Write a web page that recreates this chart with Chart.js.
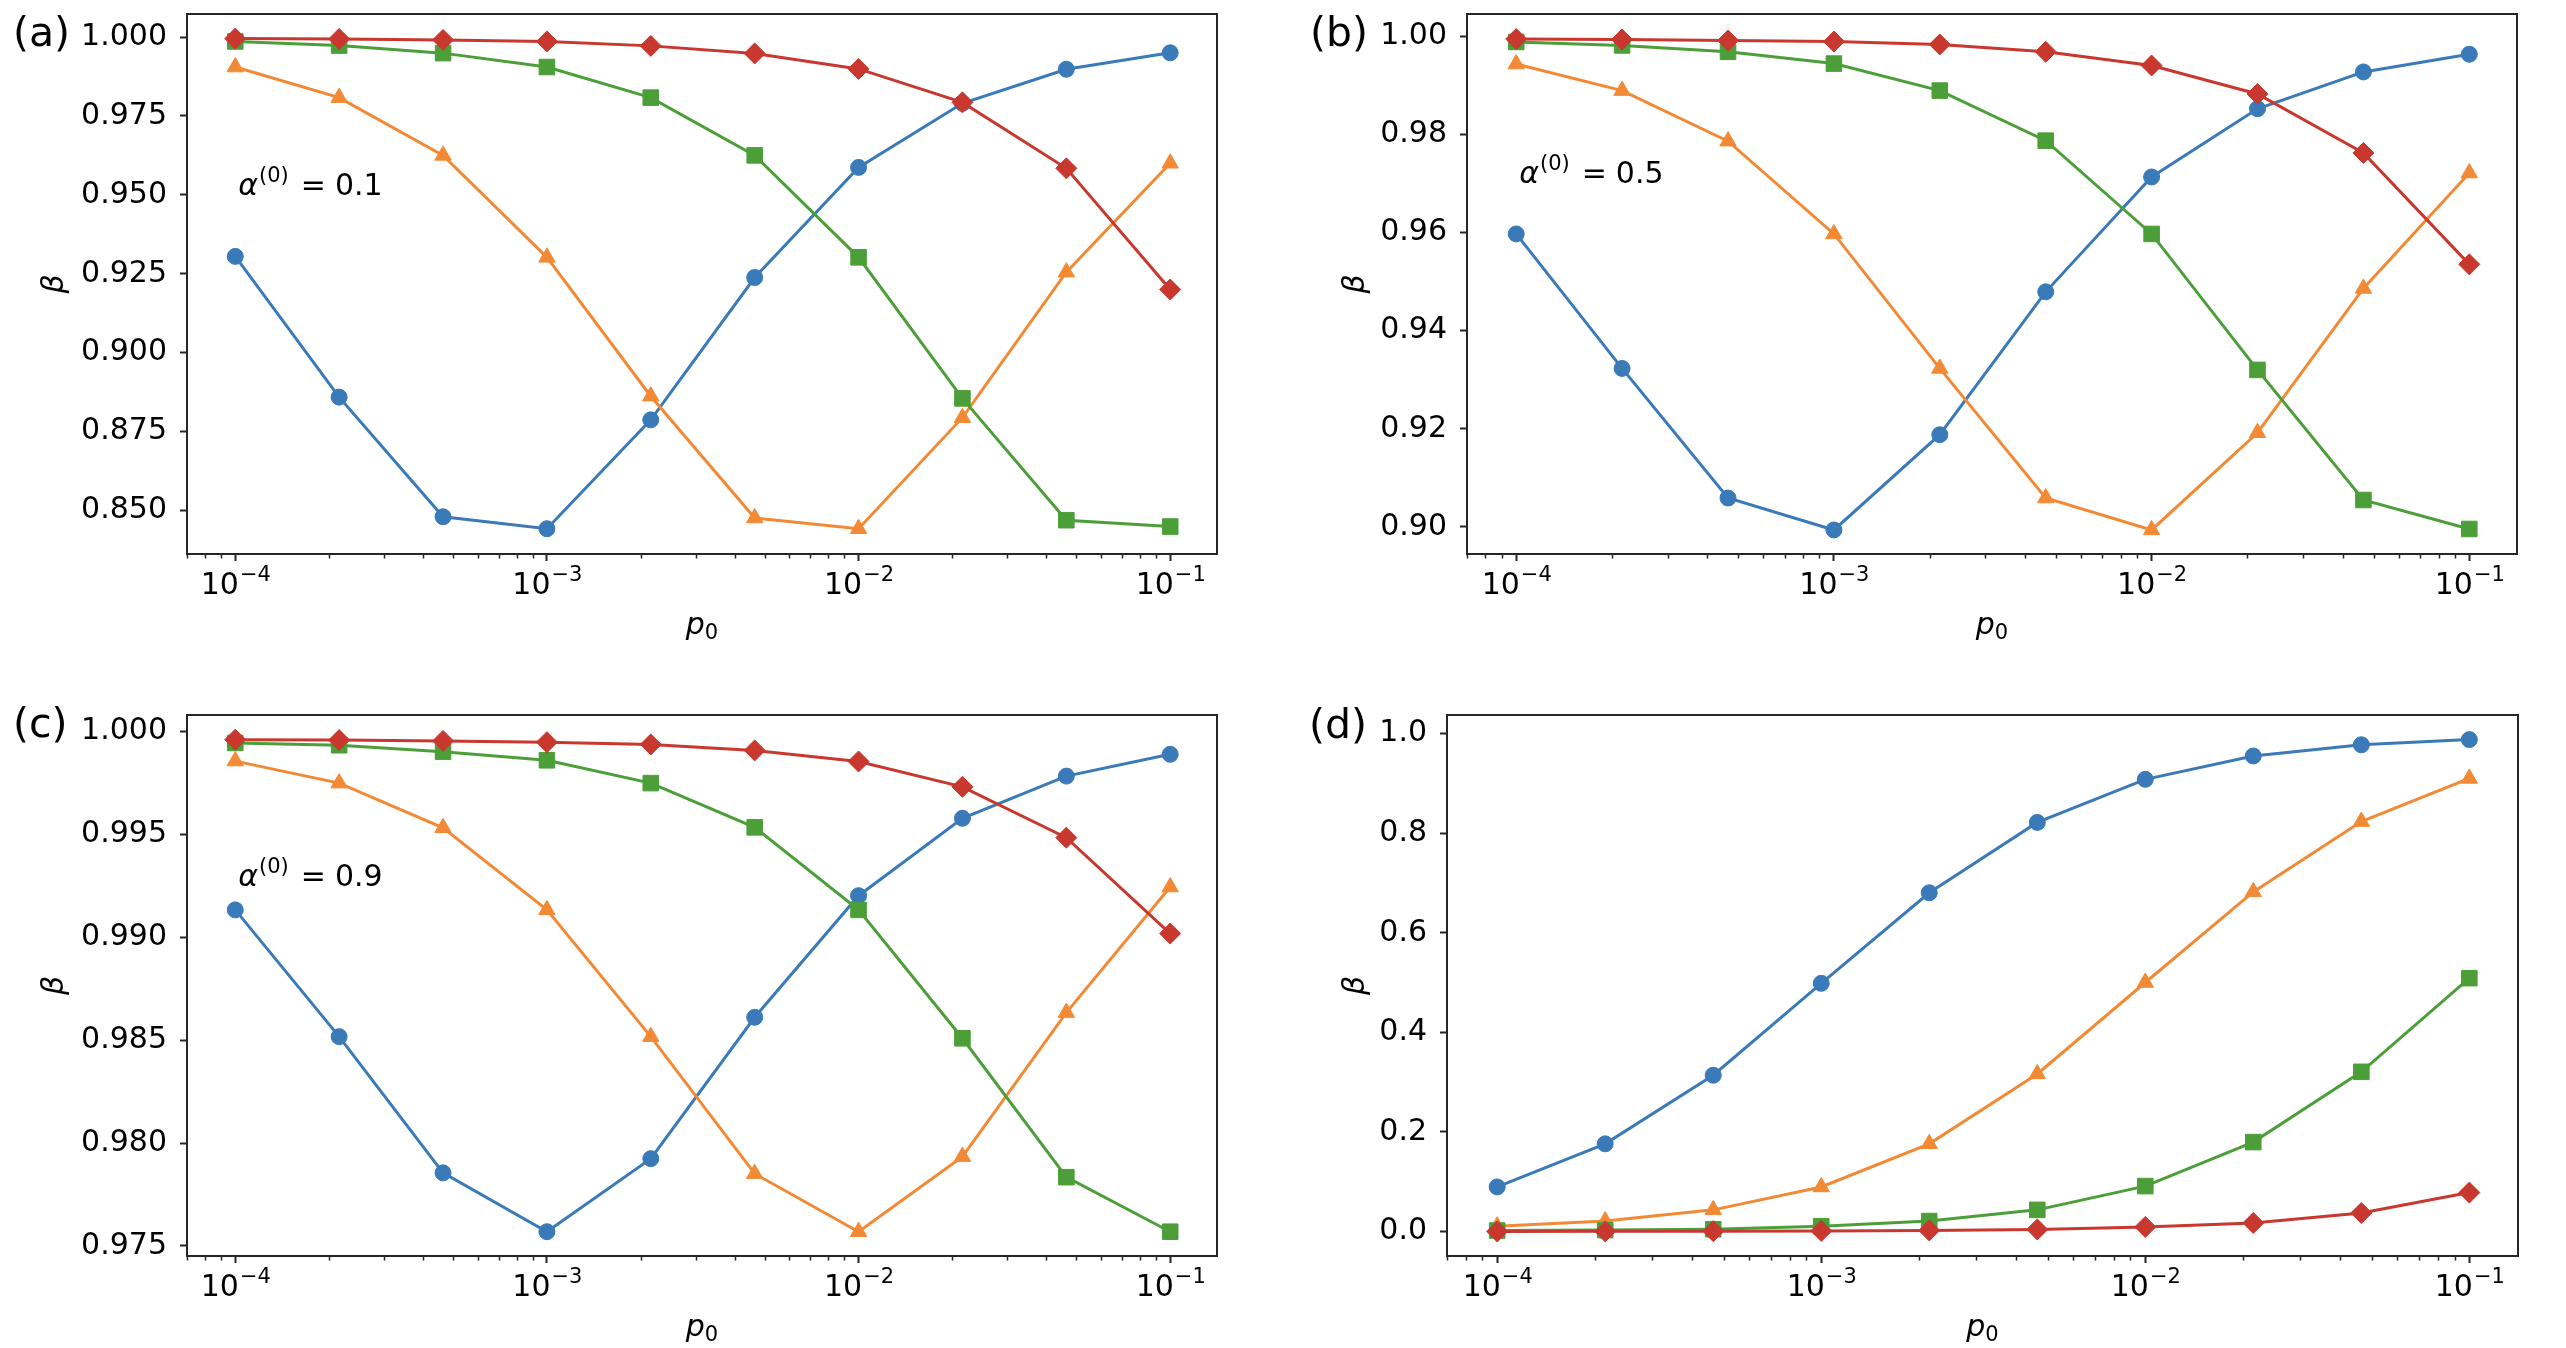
<!DOCTYPE html>
<html>
<head>
<meta charset="utf-8">
<script src="https://cdn.jsdelivr.net/npm/chart.js@4.4.0/dist/chart.umd.min.js"></script>
<style>
    html, body { margin: 0; padding: 0; background: #fff; overflow: hidden; width: 2566px; height: 1348px; }
    canvas { position: absolute; }
</style>
</head>
<body>
<canvas id="chart-a"></canvas>
<canvas id="chart-b"></canvas>
<canvas id="chart-c"></canvas>
<canvas id="chart-d"></canvas>
<script>
// Значения p0 по оси X
const p0Values = [1e-4, 2.154e-4, 4.642e-4, 1e-3, 2.154e-3, 4.642e-3, 1e-2, 2.154e-2, 4.642e-2, 1e-1];
const xTickValues = [1e-4, 1e-3, 1e-2, 1e-1];
const xTickBases = ['10', '10', '10', '10'];
const xTickExponents = ['−4', '−3', '−2', '−1'];

// Панель (a), α(0) = 0.1
const betaA_circle   = [0.9305, 0.8859, 0.8480, 0.8442, 0.8787, 0.9238, 0.9587, 0.9790, 0.9898, 0.9950];
const betaA_triangle = [0.9905, 0.9808, 0.9625, 0.9302, 0.8862, 0.8476, 0.8442, 0.8794, 0.9255, 0.9600];
const betaA_square   = [0.9986, 0.9973, 0.9949, 0.9905, 0.9808, 0.9625, 0.9302, 0.8855, 0.8469, 0.8449];
const betaA_diamond  = [0.9995, 0.9994, 0.9991, 0.9986, 0.9972, 0.9948, 0.9899, 0.9793, 0.9584, 0.9200];

// Панель (b), α(0) = 0.5
const betaB_circle   = [0.9597, 0.9323, 0.9059, 0.8994, 0.9188, 0.9479, 0.9713, 0.9852, 0.9927, 0.9963];
const betaB_triangle = [0.9943, 0.9889, 0.9786, 0.9597, 0.9323, 0.9059, 0.8994, 0.9192, 0.9486, 0.9721];
const betaB_square   = [0.9988, 0.9981, 0.9968, 0.9944, 0.9889, 0.9787, 0.9597, 0.9320, 0.9055, 0.8996];
const betaB_diamond  = [0.9994, 0.9993, 0.9991, 0.9989, 0.9983, 0.9968, 0.9940, 0.9882, 0.9762, 0.9535];

// Панель (c), α(0) = 0.9
const betaC_circle   = [0.99133, 0.98517, 0.97855, 0.97569, 0.97924, 0.98611, 0.99202, 0.99578, 0.99783, 0.99889];
const betaC_triangle = [0.99856, 0.99749, 0.99532, 0.99133, 0.98517, 0.97851, 0.97569, 0.97934, 0.98634, 0.99244];
const betaC_square   = [0.99944, 0.99933, 0.99902, 0.99860, 0.99749, 0.99534, 0.99133, 0.98509, 0.97834, 0.97569];
const betaC_diamond  = [0.99960, 0.99958, 0.99954, 0.99948, 0.99937, 0.99908, 0.99854, 0.99731, 0.99484, 0.99018];

// Панель (d)
const betaD_circle   = [0.0893, 0.1759, 0.3137, 0.4983, 0.6802, 0.8215, 0.9081, 0.9550, 0.9775, 0.9879];
const betaD_triangle = [0.0104, 0.0208, 0.0433, 0.0893, 0.1759, 0.3163, 0.5000, 0.6820, 0.8232, 0.9099];
const betaD_square   = [0.0017, 0.0026, 0.0043, 0.0104, 0.0208, 0.0433, 0.0910, 0.1794, 0.3206, 0.5087];
const betaD_diamond  = [0.0000, 0.0001, 0.0005, 0.0010, 0.0020, 0.0040, 0.0090, 0.0170, 0.0370, 0.0780];

const FONT = '"DejaVu Sans", sans-serif';
const FRAME_COLOR = '#262626';

// Стили серий: круг, треугольник, квадрат, ромб
const seriesStyles = [
    { color: '#3a7ab8', pointStyle: 'circle',   radius: 8,    order: 3 },
    { color: '#f28a35', pointStyle: 'triangle', radius: 9.5,  order: 2 },
    { color: '#4c9f38', pointStyle: 'rect',     radius: 11,   order: 1 },
    { color: '#c8382e', pointStyle: 'rectRot',  radius: 10.5, order: 0 }
];

// Описание панелей (положение осей в пикселях страницы)
const panels = [
    {
        id: 'chart-a', label: '(a)', labelX: 13, labelY: 46, betaX: 55,
        box: { l: 187, t: 14, r: 1217, b: 554 },
        yMin: 0.8362, yMax: 1.0073, step: 0.025, digits: 3,
        alpha: '0.1', alphaY: 0.95,
        series: [betaA_circle, betaA_triangle, betaA_square, betaA_diamond]
    },
    {
        id: 'chart-b', label: '(b)', labelX: 1310, labelY: 46, betaX: 1356,
        box: { l: 1467, t: 14, r: 2517, b: 554 },
        yMin: 0.8945, yMax: 1.0045, step: 0.02, digits: 2,
        alpha: '0.5', alphaY: 0.97,
        series: [betaB_circle, betaB_triangle, betaB_square, betaB_diamond]
    },
    {
        id: 'chart-c', label: '(c)', labelX: 13, labelY: 737, betaX: 55,
        box: { l: 187, t: 715, r: 1217, b: 1256 },
        yMin: 0.97451, yMax: 1.0008, step: 0.005, digits: 3,
        alpha: '0.9', alphaY: 0.9925,
        series: [betaC_circle, betaC_triangle, betaC_square, betaC_diamond]
    },
    {
        id: 'chart-d', label: '(d)', labelX: 1309, labelY: 738, betaX: 1356,
        box: { l: 1447, t: 715, r: 2518, b: 1256 },
        yMin: -0.0494, yMax: 1.0373, step: 0.2, digits: 1,
        alpha: null, alphaY: null,
        series: [betaD_circle, betaD_triangle, betaD_square, betaD_diamond]
    }
];

// Отрисовка подписи α^(0) = значение
function drawAlphaText(ctx, x, y, value) {
    ctx.textAlign = 'left';
    ctx.textBaseline = 'alphabetic';
    ctx.font = 'italic 30px ' + FONT;
    ctx.fillText('α', x, y);
    x += ctx.measureText('α').width + 1;
    ctx.font = '21px ' + FONT;
    ctx.fillText('(0)', x, y - 13);
    x += ctx.measureText('(0)').width + 12;
    ctx.font = '30px ' + FONT;
    ctx.fillText('=', x, y);
    x += ctx.measureText('=').width + 9;
    ctx.fillText(value, x, y);
}

// Подпись деления вида 10^n
function drawPowerLabel(ctx, cxPos, baseY, base, exp) {
    ctx.font = '30px ' + FONT;
    const bw = ctx.measureText(base).width;
    ctx.font = '21px ' + FONT;
    const ew = ctx.measureText(exp).width;
    const x0 = cxPos - (bw + ew) / 2;
    ctx.textAlign = 'left';
    ctx.textBaseline = 'alphabetic';
    ctx.font = '30px ' + FONT;
    ctx.fillText(base, x0, baseY);
    ctx.font = '21px ' + FONT;
    ctx.fillText(exp, x0 + bw + 1, baseY - 13);
}

// Плагин: рамка, малые деления, подписи осей и панели
function makeDecorPlugin(panel, cx, cy) {
    return {
        id: 'decor',
        afterDraw(chart) {
            const ctx = chart.ctx;
            const area = chart.chartArea;
            const xScale = chart.scales.x;
            const yScale = chart.scales.y;
            ctx.save();

            // Рамка осей
            ctx.strokeStyle = FRAME_COLOR;
            ctx.lineWidth = 2;
            ctx.strokeRect(area.left, area.top, area.right - area.left, area.bottom - area.top);

            // Малые деления логарифмической оси
            ctx.lineWidth = 1.5;
            ctx.beginPath();
            for (let n = -5; n <= 0; n++) {
                for (let k = 2; k <= 9; k++) {
                    const v = k * Math.pow(10, n);
                    if (v < xScale.min || v > xScale.max) continue;
                    const px = Math.round(xScale.getPixelForValue(v)) + 0.5;
                    ctx.moveTo(px, area.bottom);
                    ctx.lineTo(px, area.bottom + 4.5);
                }
            }
            ctx.stroke();

            ctx.fillStyle = '#000';

            // Подписи делений оси X
            xTickValues.forEach((v, i) => {
                drawPowerLabel(ctx, xScale.getPixelForValue(v), area.bottom + 40, xTickBases[i], xTickExponents[i]);
            });

            // Метка панели
            ctx.font = '41px ' + FONT;
            ctx.textAlign = 'left';
            ctx.textBaseline = 'alphabetic';
            ctx.fillText(panel.label, panel.labelX - cx, panel.labelY - cy);

            // Подпись оси Y
            ctx.save();
            ctx.translate(panel.betaX - cx, (area.top + area.bottom) / 2);
            ctx.rotate(-Math.PI / 2);
            ctx.font = 'italic 30px ' + FONT;
            ctx.textAlign = 'center';
            ctx.textBaseline = 'middle';
            ctx.fillText('β', 0, 0);
            ctx.restore();

            // Подпись оси X: p с индексом 0
            const midX = (area.left + area.right) / 2;
            const baseY = area.bottom + 80;
            ctx.font = 'italic 30px ' + FONT;
            const pW = ctx.measureText('p').width;
            ctx.font = '21px ' + FONT;
            const subW = ctx.measureText('0').width;
            const startX = midX - (pW + subW) / 2;
            ctx.font = 'italic 30px ' + FONT;
            ctx.fillText('p', startX, baseY);
            ctx.font = '21px ' + FONT;
            ctx.fillText('0', startX + pW, baseY + 5);

            // Аннотация α^(0)
            if (panel.alpha) {
                const ax = xScale.getPixelForValue(p0Values[0]) + 3;
                const ay = yScale.getPixelForValue(panel.alphaY);
                drawAlphaText(ctx, ax, ay, panel.alpha);
            }
            ctx.restore();
        }
    };
}

// Создание графика для панели
function createPanel(panel) {
    const box = panel.box;
    const yAxisWidth = 187;
    const xAxisHeight = 96;
    const padTop = 40;
    const padRight = 30;
    const cx = box.l - yAxisWidth;
    const cy = box.t - padTop;
    const cw = box.r + padRight - cx;
    const ch = box.b + xAxisHeight - cy;

    const canvas = document.getElementById(panel.id);
    canvas.width = cw;
    canvas.height = ch;
    canvas.style.left = cx + 'px';
    canvas.style.top = cy + 'px';
    canvas.style.width = cw + 'px';
    canvas.style.height = ch + 'px';

    const datasets = panel.series.map((values, i) => {
        const st = seriesStyles[i];
        return {
            data: values.map((v, j) => ({ x: p0Values[j], y: v })),
            borderColor: st.color,
            backgroundColor: st.color,
            borderWidth: 3,
            pointStyle: st.pointStyle,
            pointRadius: st.radius,
            pointHoverRadius: st.radius,
            pointBackgroundColor: st.color,
            pointBorderColor: st.color,
            pointBorderWidth: 1,
            tension: 0,
            order: st.order,
            clip: false
        };
    });

    return new Chart(canvas, {
        type: 'line',
        data: { datasets: datasets },
        options: {
            responsive: false,
            animation: false,
            devicePixelRatio: 1,
            events: [],
            layout: { padding: { left: 0, top: padTop, right: padRight, bottom: 0 } },
            plugins: {
                legend: { display: false },
                tooltip: { enabled: false },
                title: { display: false }
            },
            scales: {
                x: {
                    type: 'logarithmic',
                    min: 7.079e-5,
                    max: 0.1413,
                    afterBuildTicks: scale => {
                        scale.ticks = xTickValues.map(v => ({ value: v }));
                    },
                    afterFit: scale => { scale.height = xAxisHeight; },
                    ticks: {
                        // подписи рисуются плагином (степени десяти)
                        callback: () => '',
                        font: { family: FONT, size: 30 },
                        padding: 4,
                        maxRotation: 0,
                        autoSkip: false
                    },
                    grid: {
                        drawOnChartArea: false,
                        drawTicks: true,
                        tickLength: 7,
                        tickWidth: 2,
                        tickColor: FRAME_COLOR
                    },
                    border: { display: false }
                },
                y: {
                    type: 'linear',
                    min: panel.yMin,
                    max: panel.yMax,
                    afterFit: scale => { scale.width = yAxisWidth; },
                    ticks: {
                        stepSize: panel.step,
                        includeBounds: false,
                        callback: v => Number(v).toFixed(panel.digits),
                        font: { family: FONT, size: 30 },
                        color: '#000',
                        padding: 13
                    },
                    grid: {
                        drawOnChartArea: false,
                        drawTicks: true,
                        tickLength: 7,
                        tickWidth: 2,
                        tickColor: FRAME_COLOR
                    },
                    border: { display: false }
                }
            }
        },
        plugins: [makeDecorPlugin(panel, cx, cy)]
    });
}

document.addEventListener('DOMContentLoaded', function() {
    panels.forEach(createPanel);
});
</script>
</body>
</html>
